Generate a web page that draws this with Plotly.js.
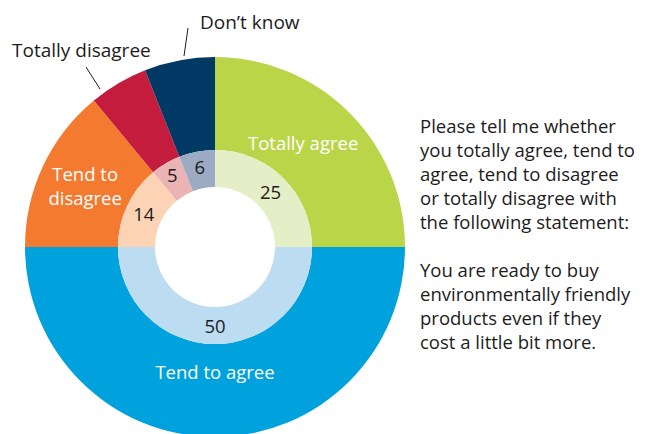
<!DOCTYPE html>
<html>
<head>
<meta charset="utf-8">
<script src="https://cdn.plot.ly/plotly-3.0.1.min.js"></script>
<style>
html,body{margin:0;padding:0;overflow:hidden;background:#fff;}
#chart{width:649px;height:440px;}
</style>
</head>
<body>
<div id="chart"></div>
<script>
// ---- data ----
const categories = ["Totally agree", "Tend to agree", "Tend to disagree", "Totally disagree", "Don’t know"];
const values = [25, 50, 14, 5, 6];
const outerColors = ["#bad548", "#00a2de", "#f47a30", "#c31c3c", "#003a64"];
const innerColors = ["#e5efc7", "#bcdcf2", "#fdd3b5", "#ebb4b4", "#9caac4"];
const questionLines = [
  "Please tell me whether",
  "you totally agree, tend to",
  "agree, tend to disagree",
  "or totally disagree with",
  "the following statement:",
  "",
  "You are ready to buy",
  "environmentally friendly",
  "products even if they",
  "cost a little bit more."
];

// ---- layout helpers ----
const W = 649, H = 440;
const px = x => x / W;
const py = y => 1 - y / H;
const cx = 215, cy = 247, R = 190, rMid = 97, rHole = 60;
const FONT = "Open Sans, Noto Sans, sans-serif";
const FS = 18.5;
const TXT = "#1e1b1c";

const outerText = categories.map(c => c === "Tend to disagree" ? "Tend to<br>disagree" : c);
const outerPos = categories.map((c, i) => (i === 1 || i === 2) ? "inside" : "none");

const outer = {
  type: "pie",
  values: values,
  labels: categories,
  text: outerText,
  textinfo: "text",
  textposition: outerPos,
  insidetextorientation: "horizontal",
  insidetextfont: {family: FONT, size: FS, color: "#ffffff"},
  marker: {colors: outerColors, line: {width: 0}},
  sort: false,
  direction: "clockwise",
  rotation: 0,
  hole: rMid / R,
  domain: {x: [px(cx - R), px(cx + R)], y: [py(cy + R), py(cy - R)]},
  hoverinfo: "none",
  showlegend: false
};

const inner = {
  type: "pie",
  values: values,
  labels: categories,
  textinfo: "value",
  textposition: "inside",
  insidetextorientation: "horizontal",
  insidetextfont: {family: FONT, size: FS, color: TXT},
  marker: {colors: innerColors, line: {width: 0}},
  sort: false,
  direction: "clockwise",
  rotation: 0,
  hole: rHole / rMid,
  domain: {x: [px(cx - rMid), px(cx + rMid)], y: [py(cy + rMid), py(cy - rMid)]},
  hoverinfo: "none",
  showlegend: false
};

const annotations = [
  {text: categories[0], x: px(303), y: py(142), xref: "paper", yref: "paper",
   xanchor: "center", yanchor: "middle", showarrow: false,
   font: {family: FONT, size: FS, color: "#ffffff"}},
  {text: categories[3], x: px(81), y: py(50), xref: "paper", yref: "paper",
   xanchor: "center", yanchor: "middle", showarrow: false,
   font: {family: FONT, size: 19, color: TXT}},
  {text: categories[4], x: px(249.5), y: py(22), xref: "paper", yref: "paper",
   xanchor: "center", yanchor: "middle", showarrow: false,
   font: {family: FONT, size: 19, color: TXT}},
  {text: questionLines.join("<br>"), x: px(418), y: py(233), xref: "paper", yref: "paper",
   xanchor: "left", yanchor: "middle", align: "left", showarrow: false,
   font: {family: FONT, size: FS, color: TXT}}
];

const shapes = [
  {type: "line", xref: "paper", yref: "paper", x0: px(86), y0: py(67), x1: px(100), y1: py(89),
   line: {color: TXT, width: 1}},
  {type: "line", xref: "paper", yref: "paper", x0: px(188), y0: py(28), x1: px(184), y1: py(56),
   line: {color: TXT, width: 1}}
];

const layout = {
  width: W, height: H,
  margin: {l: 0, r: 0, t: 0, b: 0, pad: 0},
  paper_bgcolor: "#ffffff",
  plot_bgcolor: "#ffffff",
  font: {family: FONT, color: TXT},
  uniformtext: {mode: "show", minsize: FS},
  annotations: annotations,
  shapes: shapes,
  showlegend: false
};

Plotly.newPlot("chart", [outer, inner], layout, {staticPlot: true, displayModeBar: false});
</script>
</body>
</html>
